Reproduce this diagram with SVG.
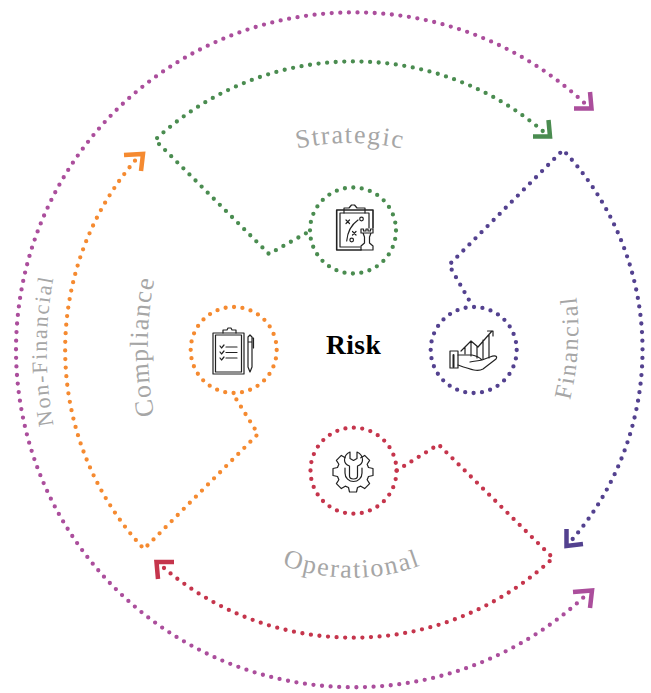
<svg xmlns="http://www.w3.org/2000/svg" width="651" height="693" viewBox="0 0 651 693">
<style>
.d{fill:none;stroke-width:4.300;stroke-linecap:round;stroke-dasharray:0 8.600}
.c{stroke-dasharray:0 8.443}
.h{fill:none;stroke-width:4.500}
.m{stroke:#ab4e9c}.g{stroke:#4a8c50}.p{stroke:#53418f}.r{stroke:#c5354c}.o{stroke:#f58a30}
.l{font-family:"Liberation Serif",serif;font-size:26px;fill:#a6a6a6;text-anchor:middle}
.i{fill:none;stroke:#222;stroke-width:1.200;stroke-linejoin:round;stroke-linecap:round}
</style>
<defs>
<path id="ts" d="M280 153A250 250 0 0 1 420 153"/>
<path id="to" d="M272 561A200 200 0 0 0 432 561"/>
<path id="tc" d="M157 427A350 350 0 0 1 157 267"/>
<path id="tn" d="M59.400 451A400 400 0 0 1 59.400 251"/>
<path id="tf" d="M566 415A300 300 0 0 0 574 280"/>
</defs>
<g id="connectors">
<path class="d m" d="M584 102.700A338 338 0 0 0 16 350A338 338 0 0 0 585 596"/>
<path class="d g" d="M542.700 131A291 291 0 0 0 155 140L269 254L310 231"/>
<path class="d p" d="M572.700 539A291 291 0 0 0 563 150L449 265L473 307"/>
<path class="d r" d="M164 568A291 291 0 0 0 553 558L438.500 444.500L396 471"/>
<path class="d o" d="M135 160.700A291 291 0 0 0 144 549L258 434L233 394"/>
<path class="h m" d="M574 108.500L591.500 108.500L590 92"/>
<path class="h g" d="M533 136.500L550 136.500L548.500 120"/>
<path class="h o" d="M124 155L143 154L141 171"/>
<path class="h p" d="M566.500 529L566.500 546L583 544"/>
<path class="h m" d="M573 592L592 590.500L590 608"/>
<path class="h r" d="M174 562L156.500 562L158 579"/>
</g>
<g id="n-strategic">
<circle class="d c g" cx="353" cy="230.500" r="43"/>
<g class="i">
<path d="M361 250H336.700V210H373V228" stroke-width="1.600"/>
<path d="M360 247H340V213H369V228"/>
<path d="M344 213V208H349L351.500 205H354.500L357 208H365V213"/>
<path d="M346.700 241C347.500 232 351 225 358 220"/>
<path d="M346 220L349.500 223.500M349.500 220L346 223.500M352.500 231.500L356 235M356 231.500L352.500 235"/>
<circle cx="361.500" cy="219" r="1.800"/><circle cx="351.700" cy="240" r="1.800"/>
<path d="M361 229V233H373V229H370.500V231H368V229H366V231H363.500V229ZM363 233L364.500 237V243L361 246V250H373V246L369.500 243V237L371 233"/>
</g>
</g>
<g id="n-compliance">
<circle class="d c o" cx="233.700" cy="350" r="43"/>
<g class="i">
<rect x="213" y="333" width="31" height="41"/><rect x="215.500" y="335" width="26" height="37"/>
<path d="M223 333V330H227L228 328L231 328L232 330H236V333"/>
<path d="M220 346L221.500 348L224 345M220 352L221.500 354L224 351M220 358L221.500 360L224 357M226 347H237M226 352.500H237M226 358H237"/>
<path d="M248 337L250 335L252 337V367L250 372L248 367ZM248 342H252M252 338H253.500V348"/>
</g>
</g>
<g id="n-financial">
<circle class="d c p" cx="473.700" cy="350" r="43"/>
<g class="i">
<rect x="450" y="351" width="8" height="17"/><path d="M453.500 355V367" stroke-width="2"/>
<path d="M458 355H472C478 356 480 358 482 360L490 357C495 355 498 356 496 359L483 369C478 372 472 370 458 365M470 362C474 361 478 361 482 360"/>
<path d="M461 351L471 341L478 347L492 331M487.500 331H493V336M465 347V354M471 341V356M477 346V358M483 340V359M489 334V358"/>
</g>
</g>
<g id="n-operational">
<circle class="d c r" cx="353.500" cy="470.700" r="43"/>
<g class="i">
<path d="M360.780 457.860L364.670 455.390L369.610 460.330L367.140 464.220L368.500 467.500L373 468.500V475.500L368.500 476.500L367.140 479.780L369.610 483.670L364.670 488.610L360.780 486.140L357.500 487.500L356.500 492H349.500L348.500 487.500L345.220 486.140L341.330 488.610L336.390 483.670L338.860 479.780L337.500 476.500L333 475.500V468.500L337.500 467.500L338.860 464.220L336.390 460.330L341.330 455.390L345.220 457.860"/>
<path d="M350 452V458.500L353.500 460.500L357 458.500V452C360.500 453.500 362.500 456.500 362.500 460C362.500 462.500 360.500 465 357.500 466V476C357.500 480 349.500 480 349.500 476V466C346.500 465 344.500 462.500 344.500 460C344.500 456.500 346.500 453.500 350 452Z"/>
<path d="M345 468V473C345 478 349 481.500 353.500 481.500C358 481.500 362 478 362 473V468"/>
</g>
</g>
<g id="center">
<text x="326" y="354" style='font-family:"Liberation Serif",serif;font-size:27.500px;font-weight:700;fill:#000;letter-spacing:.4px'>Risk</text>
</g>
<g id="labels">
<text class="l" letter-spacing="1.600"><textPath href="#ts" startOffset="50%">Strategic</textPath></text>
<text class="l" letter-spacing="1.800"><textPath href="#to" startOffset="50%">Operational</textPath></text>
<text class="l" letter-spacing="1.200"><textPath href="#tc" startOffset="50%">Compliance</textPath></text>
<text class="l" style="font-size:22px" letter-spacing="1.700"><textPath href="#tn" startOffset="50%">Non-Financial</textPath></text>
<text class="l" style="font-size:24px" letter-spacing="1.800"><textPath href="#tf" startOffset="50%">Financial</textPath></text>
</g>
</svg>
